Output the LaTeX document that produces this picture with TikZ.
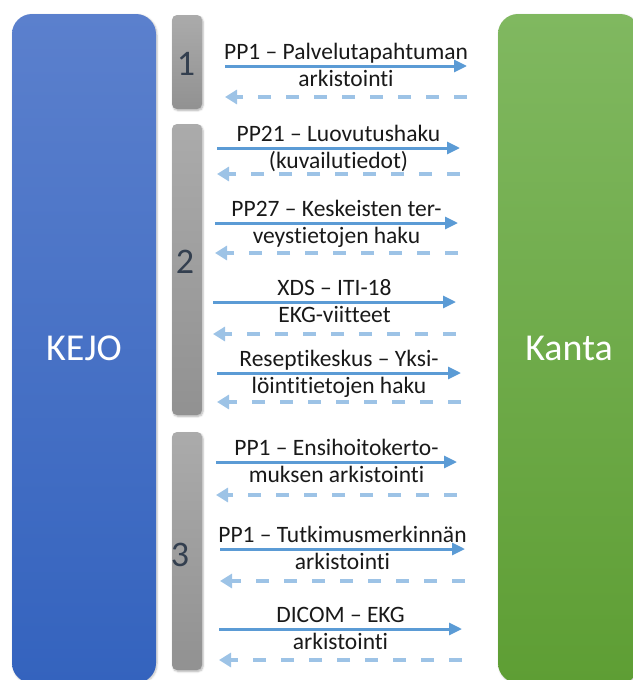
\documentclass[tikz,border=0pt]{standalone}
\usepackage{fontspec}
\setmainfont{Carlito}[Ligatures={NoCommon}]
\usepackage{xcolor}
\usetikzlibrary{arrows.meta, calc, positioning, shadows.blur}
\definecolor{kejoTop}{HTML}{5B80CD}
\definecolor{kejoBot}{HTML}{3463BE}
\definecolor{kantaTop}{HTML}{80B860}
\definecolor{kantaBot}{HTML}{5E9E34}
\definecolor{reqBlue}{HTML}{5B9BD5}
\definecolor{respBlue}{HTML}{9DC3E6}
\definecolor{numGray}{HTML}{333F4F}
\tikzset{
    system/.style={rounded corners=20pt, text=white, inner sep=0pt, % the two big end systems
        font=\fontsize{38}{44}\selectfont,
        blur shadow={shadow xshift=1pt, shadow yshift=-1pt, shadow blur steps=6, shadow opacity=25}},
    phase/.style={rounded corners=5pt, top color=black!33, bottom color=black!43, % grey phase bars
        minimum width=30pt, inner sep=0pt,
        blur shadow={shadow xshift=1pt, shadow yshift=-1.5pt, shadow blur steps=5, shadow opacity=30}},
    num/.style={text=numGray, font=\fontsize{36}{40}\selectfont, inner sep=0pt},
    msg/.style={font=\fontsize{23.5}{28}\selectfont, text=black!90, anchor=base, inner sep=0pt},
}
\tikzstyle{req} = [line width=3pt, reqBlue, -{Triangle[length=13pt, width=12pt]}]
\tikzstyle{resp} = [line width=4.5pt, respBlue, dash pattern=on 13pt off 15pt, -{Triangle[length=12pt, width=14pt]}]

\begin{document}
\begin{tikzpicture}[x=1pt, y=-1pt]
    \useasboundingbox (0,0) rectangle (632,680);

    \node[system, top color=kejoTop, bottom color=kejoBot, minimum width=144pt, minimum height=669pt] (kejo) at (84,348.5) {KEJO};
    \node[system, top color=kantaTop, bottom color=kantaBot, minimum width=142pt, minimum height=669pt] (kanta) at (569,348.5) {Kanta};

    \node[phase, minimum height=94pt] (p1) at (187,62) {};
    \node[phase, minimum height=291pt] (p2) at (187,269.5) {};
    \node[phase, minimum height=238pt] (p3) at (187,551) {};
    \node[num] (n1) at (186,64) {1};
    \node[num] (n2) at (185,262) {2};
    \node[num] (n3) at (180,555) {3};

    \foreach \n/\ys/\yd/\xa/\xb/\txta/\txtb in {
        1/66/97/225/467/PP1 – Palvelutapahtuman/arkistointi,
        2/148/174/217/460/PP21 – Luovutushaku/(kuvailutiedot),
        3/223/253/215/458/PP27 – Keskeisten ter-/veystietojen haku,
        4/302/334/213/456/XDS – ITI-18/EKG-viitteet,
        5/373/402/217/461/Reseptikeskus – Yksi-/löintitietojen haku,
        6/462/495/216/457/PP1 – Ensihoitokerto-/muksen arkistointi,
        7/549/581/220/465/PP1 – Tutkimusmerkinnän/arkistointi,
        8/629/660/219/462/DICOM – EKG/arkistointi}{
        \coordinate (m\n-a) at (\xa,\ys);
        \coordinate (m\n-b) at (\xb,\ys);
        \coordinate (m\n-c) at (\xa,\yd);
        \coordinate (m\n-d) at (\xb,\yd);
        \draw[req] (m\n-a) -- (m\n-b);
        \draw[resp] (m\n-d) -- (m\n-c);
        \node[msg] (m\n-top) at ($(m\n-a)!.5!(m\n-b)+(0,-7)$) {\txta};
        \node[msg] (m\n-bot) at ($(m\n-a)!.5!(m\n-b)+(0,20)$) {\txtb};
    }
\end{tikzpicture}
\end{document}
